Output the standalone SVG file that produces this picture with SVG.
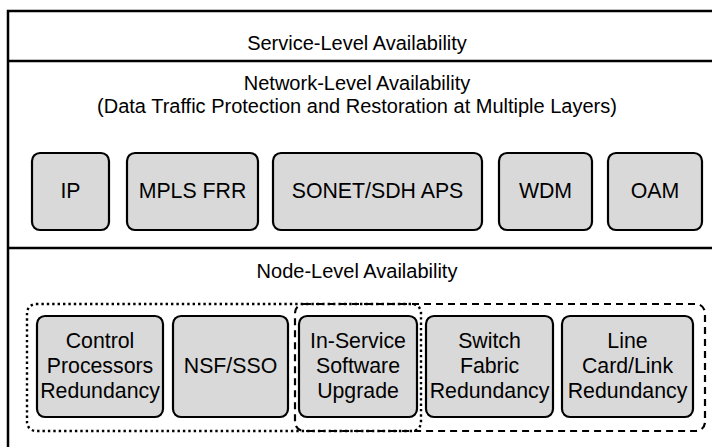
<svg xmlns="http://www.w3.org/2000/svg" width="712" height="447" viewBox="0 0 712 447">
  <style>
    .frame { fill: none; stroke: #000; stroke-width: 2.5; }
    .box { fill: #d9d9d9; stroke: #000; stroke-width: 2.2; }
    .lbl { font-family: "Liberation Sans", Arial, sans-serif; font-size: 20px; fill: #000; text-anchor: middle; }
    .box-lbl { font-size: 21.3px; }
    .dotted { fill: none; stroke: #000; stroke-width: 2.4; stroke-dasharray: 2.4 3; }
    .dashed { fill: none; stroke: #000; stroke-width: 2.2; stroke-dasharray: 7 5; }
  </style>
  <rect width="712" height="447" fill="#fff"/>

  <!-- outer layered frame (runs off the right and bottom edges) -->
  <g id="frame">
    <rect class="frame" x="8" y="11" width="720" height="450"/>
    <line class="frame" x1="8" y1="61" x2="712" y2="61"/>
    <line class="frame" x1="8" y1="248" x2="712" y2="248"/>
  </g>

  <g id="service-level">
    <text class="lbl" x="357" y="50">Service-Level Availability</text>
  </g>

  <g id="network-level">
    <text class="lbl" x="357" y="90">Network-Level Availability</text>
    <text class="lbl" x="357" y="113">(Data Traffic Protection and Restoration at Multiple Layers)</text>
  </g>

  <g id="ip">
    <rect class="box" x="32" y="153" width="77" height="77" rx="8"/>
    <text class="lbl box-lbl" x="70.5" y="198">IP</text>
  </g>
  <g id="mpls-frr">
    <rect class="box" x="127" y="153" width="131" height="77" rx="8"/>
    <text class="lbl box-lbl" x="192.5" y="198">MPLS FRR</text>
  </g>
  <g id="sonet-sdh-aps">
    <rect class="box" x="273" y="153" width="209" height="77" rx="8"/>
    <text class="lbl box-lbl" x="377.5" y="198">SONET/SDH APS</text>
  </g>
  <g id="wdm">
    <rect class="box" x="499" y="153" width="93" height="77" rx="8"/>
    <text class="lbl box-lbl" x="545.5" y="198">WDM</text>
  </g>
  <g id="oam">
    <rect class="box" x="608" y="153" width="94" height="77" rx="8"/>
    <text class="lbl box-lbl" x="655" y="198">OAM</text>
  </g>

  <g id="node-level">
    <text class="lbl" x="357" y="278">Node-Level Availability</text>
  </g>

  <!-- grouping outlines -->
  <g id="groupings">
    <rect class="dotted" x="27" y="304" width="394" height="127" rx="9"/>
    <rect class="dashed" x="295" y="304" width="410" height="127" rx="9"/>
  </g>

  <g id="control-processors">
    <rect class="box" x="37" y="316" width="126" height="101" rx="8"/>
    <text class="lbl box-lbl" x="100" y="348">Control</text>
    <text class="lbl box-lbl" x="100" y="373">Processors</text>
    <text class="lbl box-lbl" x="100" y="398">Redundancy</text>
  </g>
  <g id="nsf-sso">
    <rect class="box" x="173" y="316" width="115" height="101" rx="8"/>
    <text class="lbl box-lbl" x="230.5" y="373">NSF/SSO</text>
  </g>
  <g id="issu">
    <rect class="box" x="299" y="316" width="118" height="101" rx="8"/>
    <text class="lbl box-lbl" x="358" y="348">In-Service</text>
    <text class="lbl box-lbl" x="358" y="373">Software</text>
    <text class="lbl box-lbl" x="358" y="398">Upgrade</text>
  </g>
  <g id="switch-fabric">
    <rect class="box" x="426" y="316" width="127" height="101" rx="8"/>
    <text class="lbl box-lbl" x="489.5" y="348">Switch</text>
    <text class="lbl box-lbl" x="489.5" y="373">Fabric</text>
    <text class="lbl box-lbl" x="489.5" y="398">Redundancy</text>
  </g>
  <g id="line-card">
    <rect class="box" x="562" y="316" width="131" height="101" rx="8"/>
    <text class="lbl box-lbl" x="627.5" y="348">Line</text>
    <text class="lbl box-lbl" x="627.5" y="373">Card/Link</text>
    <text class="lbl box-lbl" x="627.5" y="398">Redundancy</text>
  </g>

  <g id="connectors"/>
</svg>
